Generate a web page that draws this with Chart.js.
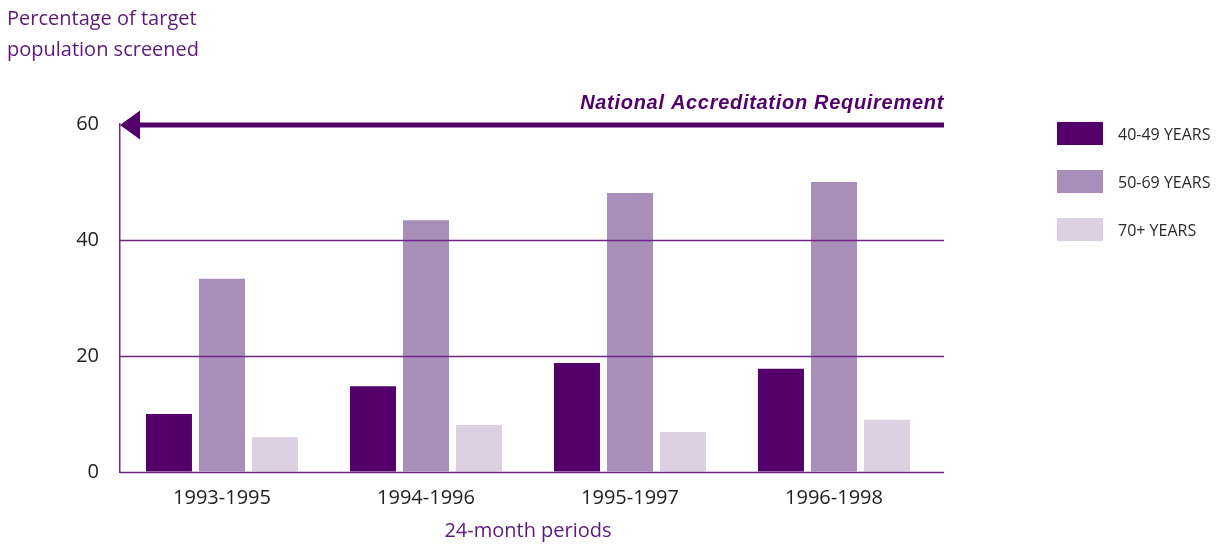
<!DOCTYPE html>
<html>
<head>
<meta charset="utf-8">
<script src="https://cdn.jsdelivr.net/npm/chart.js@4.4.1/dist/chart.umd.min.js"></script>
<style>
  html, body { margin: 0; padding: 0; background: #fff; }
  #wrap { position: relative; width: 1221px; height: 545px; }
  #legend { position: absolute; left: 1057px; top: 122px; font-family: "Open Sans", sans-serif; font-size: 16px; color: #2a2a2a; }
  .item { display: flex; align-items: center; height: 23px; margin-bottom: 25px; }
  .swatch { width: 46px; height: 23px; margin-right: 15px; }
</style>
</head>
<body>
<div id="wrap">
  <canvas id="chart" width="1221" height="545"></canvas>
  <div id="legend"></div>
</div>
<script>
const periods = ['1993-1995', '1994-1996', '1995-1997', '1996-1998'];
const ages40to49 = [10.0, 14.8, 18.8, 17.8];
const ages50to69 = [33.3, 43.4, 48.1, 50.0];
const ages70plus = [6.0, 8.1, 6.9, 9.0];
const seriesNames = ['40-49 YEARS', '50-69 YEARS', '70+ YEARS'];
const yTicks = [0, 20, 40, 60];
const targetValue = 60;
const targetLabel = 'National Accreditation Requirement';

const purple = '#52006b';
const gridPurple = '#6e2586';
const colors = ['#53006b', '#a78fb9', '#dcd0e3'];
const font = '"Open Sans", sans-serif';
// the rules and arrow run a little past the last category
const overhang = 8;

const gridAndArrow = {
  id: 'gridAndArrow',
  afterDatasetsDraw(chart) {
    const { ctx, chartArea, scales } = chart;
    const left = chartArea.left;
    const right = chartArea.right + overhang;
    ctx.save();
    ctx.strokeStyle = gridPurple;
    ctx.lineWidth = 1.5;
    yTicks.filter((v) => v !== targetValue).forEach((v) => {
      const y = Math.round(scales.y.getPixelForValue(v)) + 0.5;
      ctx.beginPath();
      ctx.moveTo(left, y);
      ctx.lineTo(right, y);
      ctx.stroke();
    });
    const y = scales.y.getPixelForValue(targetValue) + 1;
    ctx.strokeStyle = purple;
    ctx.fillStyle = purple;
    ctx.lineWidth = 5;
    ctx.beginPath();
    ctx.moveTo(left + 18, y);
    ctx.lineTo(right, y);
    ctx.stroke();
    ctx.beginPath();
    ctx.moveTo(left, y);
    ctx.lineTo(left + 20, y - 14.5);
    ctx.lineTo(left + 20, y + 14.5);
    ctx.closePath();
    ctx.fill();
    ctx.font = 'italic bold 20px "Liberation Sans", Arial, sans-serif';
    ctx.letterSpacing = '0.7px';
    ctx.textAlign = 'right';
    ctx.textBaseline = 'middle';
    ctx.fillText(targetLabel, right, y - 22);
    ctx.restore();
  },
};

const chart = new Chart(document.getElementById('chart').getContext('2d'), {
  type: 'bar',
  data: {
    labels: periods,
    datasets: [ages40to49, ages50to69, ages70plus].map((data, i) => ({
      label: seriesNames[i],
      data,
      backgroundColor: colors[i],
      categoryPercentage: 0.78,
      barPercentage: 0.868,
    })),
  },
  options: {
    responsive: false,
    animation: false,
    layout: { padding: { left: 7, right: 285, top: 0, bottom: 0 } },
    plugins: {
      legend: { display: false },
      tooltip: { enabled: false },
      title: {
        display: true,
        text: ['Percentage of target', 'population screened'],
        align: 'start',
        color: '#5e1a78',
        font: { family: font, size: 20, weight: 'normal', lineHeight: 1.55 },
        padding: { top: 4, bottom: 58 },
      },
    },
    scales: {
      x: {
        grid: { display: false, drawTicks: false },
        border: { display: false },
        ticks: { color: '#222', font: { family: font, size: 20 }, padding: 14 },
        title: {
          display: true,
          text: '24-month periods',
          color: '#5e1a78',
          font: { family: font, size: 20 },
          padding: { top: 4, bottom: 2 },
        },
        afterFit: (s) => { s.height = 73; },
      },
      y: {
        min: 0,
        max: 60,
        afterBuildTicks: (s) => { s.ticks = yTicks.map((v) => ({ value: v })); },
        afterFit: (s) => { s.width = 113; },
        grid: { drawOnChartArea: false, drawTicks: false },
        border: { color: gridPurple, width: 1.5 },
        ticks: { color: '#222', font: { family: font, size: 20 }, padding: 21 },
      },
    },
  },
  plugins: [gridAndArrow],
});

const legendEl = document.getElementById('legend');
chart.data.datasets.forEach((ds) => {
  const div = document.createElement('div');
  div.className = 'item';
  div.innerHTML = `<span class="swatch" style="background:${ds.backgroundColor}"></span><span>${ds.label}</span>`;
  legendEl.appendChild(div);
});
</script>
</body>
</html>
